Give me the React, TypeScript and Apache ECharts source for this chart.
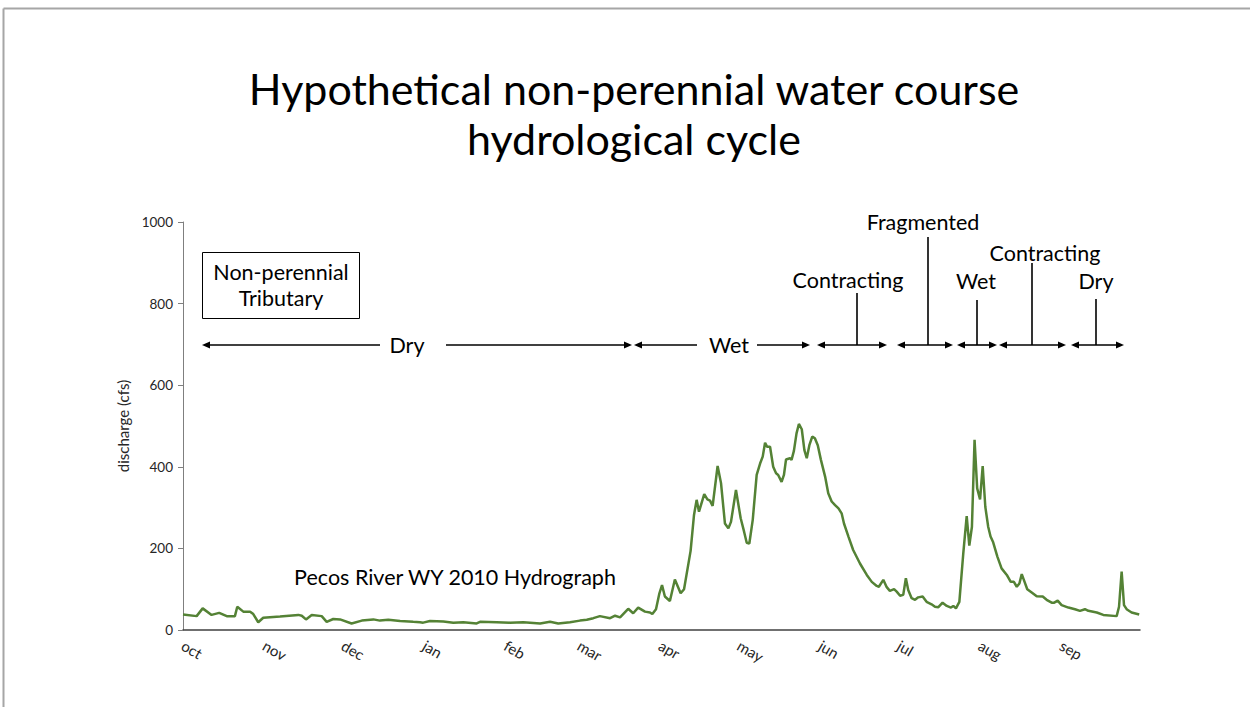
import React, { useEffect, useRef } from "react";
import * as echarts from "echarts";

// Day of water year (0 = Oct 1) and discharge (cfs)
const days = [
  0, 5.2, 7.5, 10.9, 13.8, 16.7, 19.8, 20.7, 23.0, 25.6, 26.8, 28.7, 30.6, 37.0, 44.0, 45.3, 46.9, 49.1, 52.9, 54.8,
  57.3, 59.9, 64.3, 68.2, 72.6, 75.1, 78.3, 82.8, 87.8, 90.4, 91.6, 94.2, 99.3, 103.1, 106.9, 112.0, 113.3, 119.6, 124.7, 129.8,
  136.2, 140.0, 143.1, 147.6, 151.4, 154.0, 156.5, 159.0, 162.9, 164.8, 166.7, 169.8, 171.7, 173.6, 176.2, 178.1, 179.0, 180.4, 181.7, 182.7,
  183.8, 185.7, 187.6, 189.8, 191.1, 193.6, 194.9, 195.9, 196.8, 198.8, 200.0, 201.0, 202.0, 203.9, 205.2, 206.7, 208.0, 209.0, 210.9, 212.7,
  214.0, 215.0, 216.0, 217.3, 218.8, 220.1, 221.1, 222.0, 222.8, 223.9, 225.1, 226.2, 227.0, 228.3, 229.2, 230.0, 231.5, 232.1, 233.0, 234.0,
  234.9, 236.0, 237.0, 237.9, 238.9, 240.0, 241.0, 242.1, 243.3, 244.9, 246.1, 247.4, 248.7, 250.0, 251.2, 252.1, 253.8, 255.6, 258.2, 260.8,
  262.7, 264.6, 265.4, 267.1, 268.4, 269.6, 271.2, 272.2, 273.5, 274.7, 275.7, 276.6, 277.9, 279.2, 280.4, 282.1, 283.6, 285.5, 286.8, 288.1,
  289.7, 291.3, 292.9, 293.8, 294.8, 296.1, 297.6, 298.9, 299.9, 300.9, 301.9, 302.9, 304.0, 305.0, 306.0, 307.1, 308.0, 309.0, 310.6, 312.2,
  314.2, 315.7, 316.9, 318.0, 319.0, 319.9, 320.7, 322.0, 323.7, 325.6, 327.9, 329.4, 331.3, 332.3, 333.6, 335.1, 337.7, 340.2, 342.1, 344.0,
  345.3, 348.5, 351.0, 356.1, 357.0, 358.0, 358.9, 359.9, 361.8, 364.7,
];
const flow = [
  38, 34, 53, 37, 42, 34, 34, 57, 45, 45, 39, 19, 30, 33, 37, 35, 26, 37, 34, 20,
  27, 26, 16, 23, 26, 23, 25, 22, 20, 19, 18, 22, 21, 18, 19, 16, 20, 19, 18, 19,
  16, 20, 16, 19, 23, 25, 29, 34, 29, 35, 31, 52, 41, 55, 45, 43, 39, 51, 90, 110,
  82, 71, 124, 90, 100, 194, 282, 319, 290, 333, 320, 317, 304, 402, 360, 261, 249, 265, 343, 274,
  241, 214, 212, 270, 380, 408, 425, 459, 449, 449, 400, 384, 380, 363, 380, 418, 421, 417, 439, 482,
  505, 492, 441, 421, 453, 474, 470, 453, 417, 376, 335, 315, 306, 298, 286, 261, 229, 196, 163, 135,
  118, 108, 106, 123, 105, 96, 100, 94, 84, 86, 127, 98, 78, 74, 80, 82, 69, 63, 57, 56,
  67, 59, 55, 59, 53, 69, 188, 279, 207, 253, 466, 347, 320, 402, 302, 253, 229, 215, 180, 151,
  135, 118, 118, 106, 114, 137, 123, 100, 92, 83, 82, 74, 67, 67, 72, 61, 55, 51, 47, 51,
  47, 43, 37, 34, 57, 143, 61, 51, 43, 38,
];
const monthStarts = [0, 31, 61, 92, 123, 151, 182, 212, 243, 273, 304, 335];
const monthNames = ["oct", "nov", "dec", "jan", "feb", "mar", "apr", "may", "jun", "jul", "aug", "sep"];
const yTicks = [0, 200, 400, 600, 800, 1000];

const FONT = "Lato, 'Open Sans', sans-serif";
const INK = "#000000";
const ANN = 21.5;

function arrowHead(x: number, y: number, dir: number) {
  return {
    type: "polygon",
    shape: { points: [[x, y], [x - dir * 8, y - 3.5], [x - dir * 8, y + 3.5]] },
    style: { fill: INK },
    silent: true,
  };
}
function hline(x1: number, x2: number, y: number) {
  return { type: "line", shape: { x1, y1: y, x2, y2: y }, style: { stroke: INK, lineWidth: 1.6 }, silent: true };
}
function vline(x: number, y1: number, y2: number) {
  return { type: "line", shape: { x1: x, y1, x2: x, y2 }, style: { stroke: INK, lineWidth: 1.6 }, silent: true };
}
function dbl(x1: number, x2: number, y: number) {
  return [hline(x1 + 4, x2 - 4, y), arrowHead(x1, y, -1), arrowHead(x2, y, 1)];
}
function label(text: string, x: number, y: number, size = ANN) {
  return {
    type: "text",
    x,
    y,
    style: { text, fill: INK, font: `${size}px ${FONT}`, textAlign: "center", textVerticalAlign: "middle" },
    silent: true,
  };
}

export default function App() {
  const ref = useRef<HTMLDivElement>(null);
  useEffect(() => {
    document.body.style.margin = "0";
    document.body.style.overflow = "hidden";
    document.documentElement.style.overflow = "hidden";
    const chart = echarts.init(ref.current!, null, { renderer: "svg" });
    const AY = 345;
    const graphic: any[] = [
      { type: "line", shape: { x1: 3.5, y1: 8.5, x2: 1250, y2: 8.5 }, style: { stroke: "#a6a6a6", lineWidth: 2 }, silent: true },
      { type: "line", shape: { x1: 3.5, y1: 8.5, x2: 3.5, y2: 707 }, style: { stroke: "#a6a6a6", lineWidth: 2 }, silent: true },
      label("Hypothetical non-perennial water course", 634, 88, 43),
      label("hydrological cycle", 634, 138, 43),
      { type: "rect", shape: { x: 202.5, y: 252.5, width: 157, height: 66 }, style: { fill: "#fff", stroke: INK, lineWidth: 1 }, silent: true },
      label("Non-perennial", 281, 272),
      label("Tributary", 281, 298),
      label("Pecos River WY 2010 Hydrograph", 455, 577),
      // Dry
      hline(206, 380, AY), arrowHead(202, AY, -1),
      label("Dry", 407, AY),
      hline(446, 628, AY), arrowHead(632, AY, 1),
      // Wet
      hline(638, 697, AY), arrowHead(634, AY, -1),
      label("Wet", 729, AY),
      hline(757, 806, AY), arrowHead(810, AY, 1),
      // Contracting
      ...dbl(817, 887, AY), vline(857, 293, AY), label("Contracting", 848, 280),
      // Fragmented
      ...dbl(897, 953, AY), vline(928, 237, AY), label("Fragmented", 923, 222),
      // Wet
      ...dbl(957, 997, AY), vline(977, 300, AY), label("Wet", 976, 281),
      // Contracting
      ...dbl(999, 1066, AY), vline(1032, 263, AY), label("Contracting", 1045, 253),
      // Dry
      ...dbl(1071, 1124, AY), vline(1096, 299, AY), label("Dry", 1096, 281),
    ];
    chart.setOption({
      animation: false,
      backgroundColor: "#ffffff",
      grid: { left: 183, top: 222, right: 110, bottom: 77, containLabel: false },
      xAxis: {
        type: "value",
        min: 0,
        max: 365,
        splitLine: { show: false },
        axisTick: { show: false },
        axisLine: { show: true, onZero: false, lineStyle: { color: "#404040", width: 1.5 } },
        axisLabel: {
          customValues: monthStarts,
          rotate: -30,
          margin: 14,
          color: "#262626",
          fontSize: 15,
          fontFamily: FONT,
          formatter: (v: number) => monthNames[monthStarts.indexOf(Math.round(v))] ?? "",
        },
      },
      yAxis: {
        type: "value",
        min: 0,
        max: 1000,
        interval: 200,
        name: "discharge (cfs)",
        nameLocation: "middle",
        nameGap: 52,
        nameTextStyle: { color: "#262626", fontSize: 15, fontFamily: FONT },
        splitLine: { show: false },
        axisLine: { show: true, lineStyle: { color: "#7f7f7f", width: 1 } },
        axisTick: { show: true, length: 5, lineStyle: { color: "#7f7f7f" } },
        axisLabel: {
          customValues: yTicks,
          margin: 10,
          color: "#262626",
          fontSize: 13.5,
          fontFamily: FONT,
          formatter: (v: number) => String(v),
        },
      },
      series: [
        {
          type: "line",
          data: days.map((d, i) => [d, flow[i]]),
          showSymbol: false,
          symbol: "none",
          lineStyle: { color: "#548235", width: 2.5 },
          silent: true,
        },
      ],
      graphic,
    });
    return () => chart.dispose();
  }, []);
  return <div ref={ref} style={{ position: "absolute", left: 0, top: 0, width: 1250, height: 707, overflow: "hidden" }} />;
}
